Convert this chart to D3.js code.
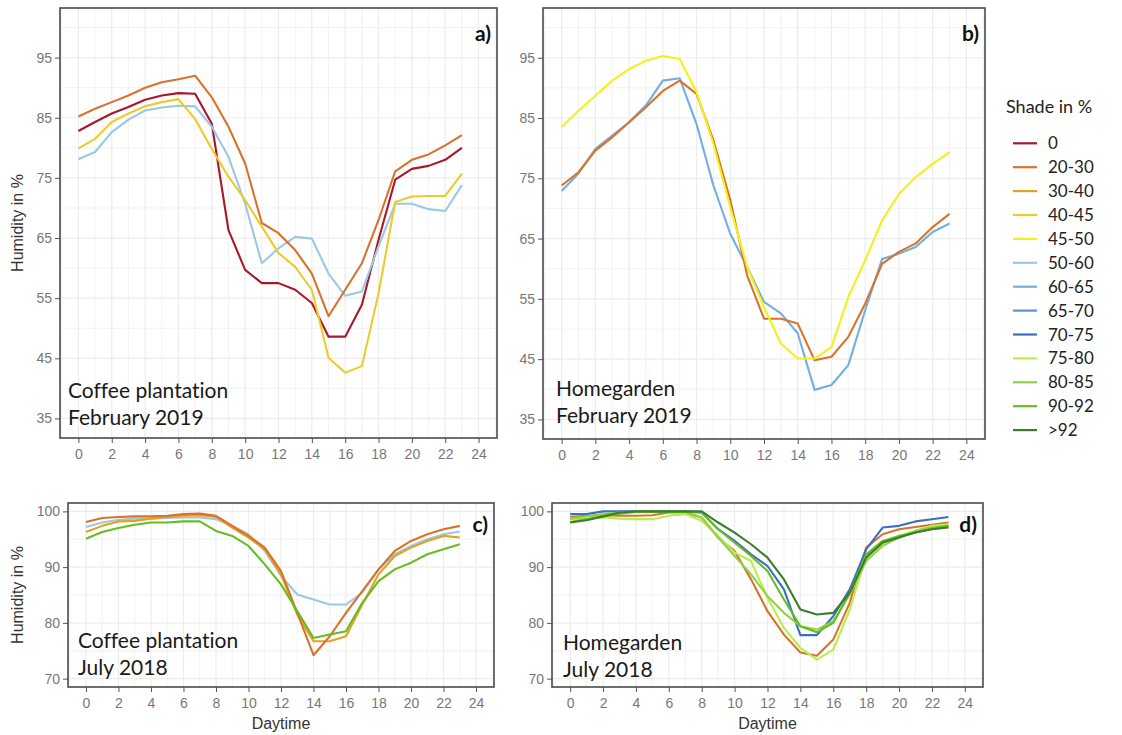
<!DOCTYPE html>
<html>
<head>
<meta charset="utf-8">
<script src="https://cdn.jsdelivr.net/npm/d3@7"></script>
<style>
  html, body { margin: 0; padding: 0; background: #ffffff; }
  svg { display: block; }
  text { font-variant-ligatures: none; }
</style>
</head>
<body>
<svg id="chart" width="1122" height="735"></svg>
<script>
// Hour of day (x values shared by all series)
const hours = [0,1,2,3,4,5,6,7,8,9,10,11,12,13,14,15,16,17,18,19,20,21,22,23];
const xTicks = [0,2,4,6,8,10,12,14,16,18,20,22,24];

// Shade classes and their colours
const shadeClasses = ["0","20-30","30-40","40-45","45-50","50-60","60-65","65-70","70-75","75-80","80-85","90-92",">92"];
const shadeColors  = ["#a8182a","#d8732b","#e3a21e","#eccb2c","#f4f01c","#9cc8e4","#73aedf","#5a91d2","#3a6fc2","#b8ee4c","#94d045","#66bd22","#3c7d2e"];

// a) Coffee plantation, February 2019
const coffeeFeb_0     = [82.8,84.3,85.7,86.8,88.0,88.7,89.1,89.0,84.0,66.3,59.7,57.5,57.5,56.4,54.2,48.6,48.6,53.9,64.7,74.7,76.5,77.0,78.0,80.0];
const coffeeFeb_20_30 = [85.2,86.5,87.6,88.7,90.0,90.9,91.4,92.0,88.4,83.5,77.4,67.5,65.8,63.0,59.1,52.0,56.4,60.8,68.0,76.1,78.0,78.9,80.4,82.1];
const coffeeFeb_40_45 = [79.9,81.5,84.3,85.7,86.9,87.6,88.1,84.8,79.8,75.2,71.3,66.9,62.5,60.2,56.4,45.1,42.6,43.7,55.8,71.0,71.9,72.0,72.0,75.7];
const coffeeFeb_50_60 = [78.1,79.3,82.6,84.7,86.2,86.7,87.0,86.9,83.5,78.5,70.7,60.8,63.3,65.2,64.9,59.1,55.4,56.1,63.6,70.7,70.7,69.8,69.5,73.8];

// b) Homegarden, February 2019
const homeFeb_20_30 = [73.8,76.0,79.6,81.8,84.3,86.8,89.5,91.2,89.0,81.3,71.4,58.9,51.7,51.7,50.9,44.8,45.4,48.7,54.2,60.8,62.8,64.2,66.9,69.1];
const homeFeb_45_50 = [83.5,86.2,88.7,91.2,93.1,94.5,95.3,94.8,89.3,80.7,70.2,60.3,53.6,47.6,45.1,45.1,47.0,55.3,61.4,68.0,72.4,75.2,77.4,79.3];
const homeFeb_60_65 = [72.9,75.8,79.9,82.1,84.3,87.1,91.2,91.6,84.0,73.8,65.8,60.3,54.5,52.6,49.3,39.9,40.7,44.0,53.1,61.6,62.5,63.6,66.1,67.5];

// c) Coffee plantation, July 2018
const coffeeJul_20_30 = [98.1,98.8,99.0,99.1,99.1,99.2,99.5,99.6,99.2,97.4,95.6,93.5,89.3,81.8,74.2,77.6,81.8,85.7,89.6,92.9,94.7,95.9,96.8,97.4];
const coffeeJul_30_40 = [96.3,97.4,98.2,98.3,98.7,99.0,99.2,99.3,99.0,97.1,95.3,93.2,88.7,81.5,76.7,76.7,77.6,83.3,88.7,92.0,93.5,94.7,95.6,95.3];
const coffeeJul_50_60 = [97.2,98.0,98.5,98.7,98.7,98.8,98.9,98.9,98.6,97.4,95.9,92.9,88.4,85.1,84.2,83.3,83.3,85.4,89.6,92.3,93.8,95.0,95.9,96.4];
const coffeeJul_90_92 = [95.1,96.3,97.0,97.6,98.0,98.0,98.2,98.2,96.5,95.6,93.8,90.5,86.9,82.1,77.3,77.9,78.5,83.6,87.5,89.6,90.8,92.3,93.2,94.1];

// d) Homegarden, July 2018
const homeJul_20_30 = [99.0,99.2,99.3,99.2,99.2,99.3,99.8,99.8,98.9,95.3,92.9,87.8,82.1,77.9,74.7,74.1,77.0,83.6,93.5,95.9,96.8,97.2,97.6,98.0];
const homeJul_70_75 = [99.5,99.5,100.0,100.0,100.0,100.0,100.0,100.0,99.8,96.8,94.7,92.3,90.2,86.0,77.8,77.8,81.2,86.0,93.2,97.1,97.4,98.2,98.6,99.0];
const homeJul_75_80 = [98.6,98.7,98.9,98.7,98.6,98.6,99.2,99.5,98.3,95.6,92.6,91.1,84.5,79.1,75.5,73.4,75.2,82.4,92.0,94.1,95.6,96.5,97.4,97.7];
const homeJul_80_85 = [98.7,99.1,99.5,99.8,99.9,99.9,99.9,99.9,98.9,95.3,92.0,88.7,84.8,81.8,79.4,78.8,80.3,85.1,91.1,93.8,95.3,96.5,97.1,97.4];
const homeJul_90_92 = [98.1,98.6,99.1,99.6,99.9,99.9,99.9,99.9,99.8,96.8,94.4,92.0,89.3,84.2,79.4,78.3,80.0,85.4,92.3,94.7,95.6,96.2,96.9,97.4];
const homeJul_gt92  = [98.0,98.4,99.1,99.8,100.0,100.0,100.0,100.0,100.0,98.0,96.2,94.1,91.7,87.8,82.4,81.5,81.8,85.4,91.7,94.4,95.3,96.2,96.8,97.1];

// Y axis breaks and limits
const yTicksFeb = [35,45,55,65,75,85,95];
const yLimitsFeb = [35,100];
const yTicksJul = [70,80,90,100];
const yLimitsJul = [70,100];

const panels = [
  { tag: "a)", box: [60, 8, 497, 438], ticks: yTicksFeb, limits: yLimitsFeb, yTitle: true, xTitle: false,
    note: ["Coffee plantation", "February 2019"], noteX: 68, noteY: 398,
    series: [["0", coffeeFeb_0], ["50-60", coffeeFeb_50_60], ["40-45", coffeeFeb_40_45], ["20-30", coffeeFeb_20_30]] },
  { tag: "b)", box: [543, 8, 985, 439], ticks: yTicksFeb, limits: yLimitsFeb, yTitle: false, xTitle: false,
    note: ["Homegarden", "February 2019"], noteX: 556, noteY: 396,
    series: [["60-65", homeFeb_60_65], ["20-30", homeFeb_20_30], ["45-50", homeFeb_45_50]] },
  { tag: "c)", box: [68, 503, 494, 687], ticks: yTicksJul, limits: yLimitsJul, yTitle: true, xTitle: true,
    note: ["Coffee plantation", "July 2018"], noteX: 78, noteY: 648,
    series: [["50-60", coffeeJul_50_60], ["30-40", coffeeJul_30_40], ["20-30", coffeeJul_20_30], ["90-92", coffeeJul_90_92]] },
  { tag: "d)", box: [552, 503, 983, 687], ticks: yTicksJul, limits: yLimitsJul, yTitle: false, xTitle: true,
    note: ["Homegarden", "July 2018"], noteX: 563, noteY: 650,
    series: [["20-30", homeJul_20_30], ["75-80", homeJul_75_80], ["70-75", homeJul_70_75], ["80-85", homeJul_80_85], ["90-92", homeJul_90_92], [">92", homeJul_gt92]] }
];

const color = d3.scaleOrdinal().domain(shadeClasses).range(shadeColors);
const svg = d3.select("#chart");
const tickFont = "'Liberation Sans', Arial, sans-serif";
const noteFont = "Lato, 'Open Sans', sans-serif";

function expand(lim, f) {
  const r = lim[1] - lim[0];
  return [lim[0] - r * f, lim[1] + r * f];
}

panels.forEach(p => {
  const [x0, y0, x1, y1] = p.box;
  const x = d3.scaleLinear().domain(expand([0, 24], 0.046)).range([x0, x1]);
  const y = d3.scaleLinear().domain(expand(p.limits, 0.05)).range([y1, y0]);
  const g = svg.append("g");

  // minor + major grid
  const xMinor = d3.range(-1, 26, 1).filter(v => x(v) > x0 && x(v) < x1);
  const yStep = p.ticks[1] - p.ticks[0];
  const yMinor = d3.range(p.limits[0] - yStep, p.limits[1] + yStep, yStep / 2).filter(v => y(v) > y0 && y(v) < y1);
  g.selectAll(".gx").data(xMinor).join("line")
    .attr("x1", d => x(d)).attr("x2", d => x(d)).attr("y1", y0).attr("y2", y1)
    .attr("stroke", "#ececec").attr("stroke-width", d => d % 2 === 0 ? 1.2 : 0.7);
  g.selectAll(".gy").data(yMinor).join("line")
    .attr("x1", x0).attr("x2", x1).attr("y1", d => y(d)).attr("y2", d => y(d))
    .attr("stroke", "#ececec").attr("stroke-width", d => p.ticks.includes(d) ? 1.2 : 0.7);

  // series lines
  const line = d3.line().x((d, i) => x(hours[i])).y(d => y(d));
  p.series.forEach(([cls, vals]) => {
    g.append("path").datum(vals)
      .attr("d", line)
      .attr("fill", "none")
      .attr("stroke", color(cls))
      .attr("stroke-width", 2.1)
      .attr("stroke-linejoin", "round");
  });

  // axes
  const xAxis = d3.axisBottom(x).tickValues(xTicks).tickSize(5).tickPadding(6);
  const gx = g.append("g").attr("transform", `translate(0,${y1})`).call(xAxis);
  const yAxis = d3.axisLeft(y).tickValues(p.ticks).tickSize(5).tickPadding(3);
  const gy = g.append("g").attr("transform", `translate(${x0},0)`).call(yAxis);
  [gx, gy].forEach(a => {
    a.select(".domain").remove();
    a.selectAll(".tick line").attr("stroke", "#555").attr("stroke-width", 1);
    a.selectAll(".tick text").attr("fill", "#777").style("font-family", tickFont).style("font-size", "14px");
  });

  // panel border
  g.append("rect").attr("x", x0).attr("y", y0).attr("width", x1 - x0).attr("height", y1 - y0)
    .attr("fill", "none").attr("stroke", "#4a4a4a").attr("stroke-width", 1.6);

  // panel tag
  g.append("text").attr("x", x1 - 6).attr("y", y0 + (p.limits[0] === 35 ? 33 : 29))
    .attr("text-anchor", "end").attr("font-weight", "bold")
    .style("font-family", noteFont).style("font-size", "21px").attr("fill", "#111").text(p.tag);

  // site / month note
  p.note.forEach((t, i) => {
    g.append("text").attr("x", p.noteX).attr("y", p.noteY + i * 27)
      .style("font-family", noteFont).style("font-size", "21px").attr("fill", "#1a1a1a").text(t);
  });

  if (p.yTitle) {
    g.append("text")
      .attr("transform", `translate(23,${(y0 + y1) / 2}) rotate(-90)`)
      .attr("text-anchor", "middle")
      .style("font-family", tickFont).style("font-size", "16px").attr("fill", "#333")
      .text("Humidity in %");
  }
  if (p.xTitle) {
    g.append("text").attr("x", (x0 + x1) / 2).attr("y", 729).attr("text-anchor", "middle")
      .style("font-family", tickFont).style("font-size", "16px").attr("fill", "#333")
      .text("Daytime");
  }
});

// legend
const leg = svg.append("g");
leg.append("text").attr("x", 1006).attr("y", 113)
  .style("font-family", noteFont).style("font-size", "18px").attr("fill", "#222").text("Shade in %");
const items = leg.selectAll(".item").data(shadeClasses).join("g")
  .attr("transform", (d, i) => `translate(0,${143.3 + i * 23.9})`);
items.append("line").attr("x1", 1013).attr("x2", 1037).attr("y1", 0).attr("y2", 0)
  .attr("stroke", d => color(d)).attr("stroke-width", 2.2);
items.append("text").attr("x", 1048).attr("y", 6)
  .style("font-family", noteFont).style("font-size", "17px").attr("fill", "#222").text(d => d);
</script>
</body>
</html>
